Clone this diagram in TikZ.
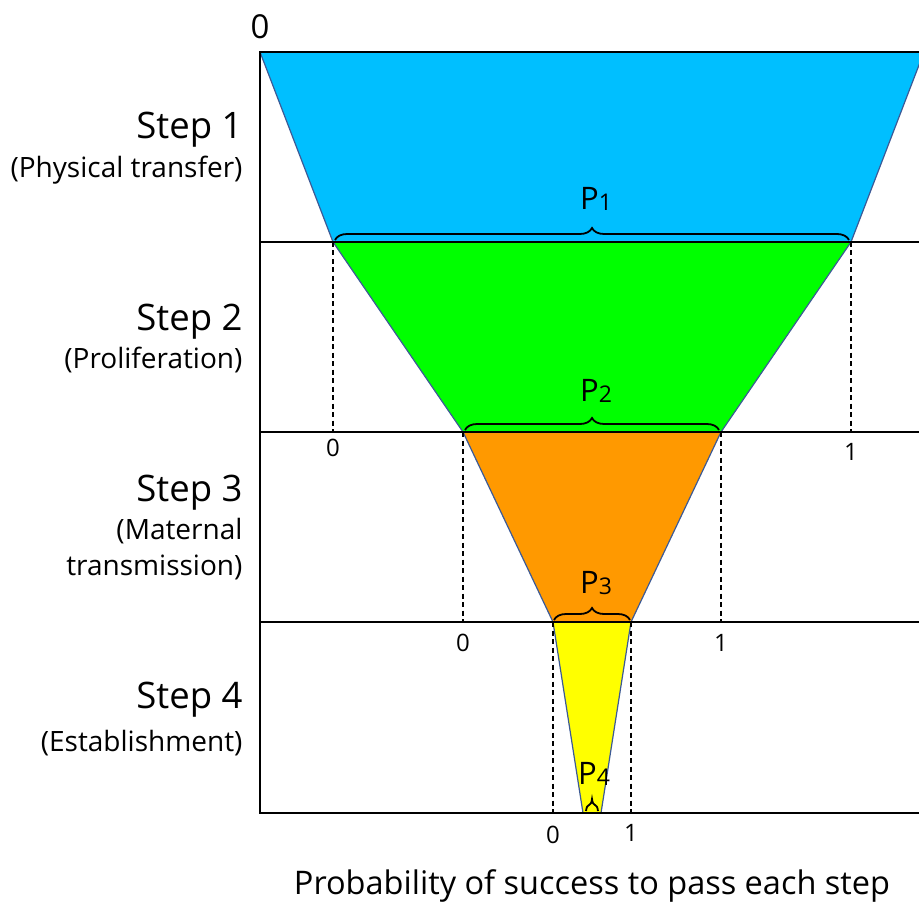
\documentclass[tikz,border=0pt]{standalone}
\usepackage{fontspec}
\setmainfont{Open Sans}
\usetikzlibrary{decorations.pathreplacing}
\definecolor{cblue}{RGB}{0,191,255}
\definecolor{cgreen}{RGB}{0,255,0}
\definecolor{corange}{RGB}{255,153,0}
\definecolor{cyellow}{RGB}{255,255,0}
\definecolor{edgeblue}{RGB}{60,90,150}
\tikzset{
  funnel/.style={draw=edgeblue, line width=1.2pt, line join=round},
  frameline/.style={draw=black, line width=2.2pt},
  guide/.style={draw=black, line width=1.4pt, dash pattern=on 5pt off 3.5pt},
  pbrace/.style={draw=black, line width=1.8pt, decorate, decoration={brace, amplitude=12pt}},
  steptitle/.style={anchor=east, font=\fontsize{36.5}{40}\selectfont},
  stepsub/.style={anchor=east, font=\fontsize{28}{32}\selectfont, align=right},
  axlabel/.style={font=\fontsize{24}{28}\selectfont},
  plabel/.style={font=\fontsize{31}{34}\selectfont},
}
\newcommand{\psub}[1]{P\raisebox{-0.1ex}{\fontsize{23}{25}\selectfont #1}}
\begin{document}
\begin{tikzpicture}[x=1pt,y=-1pt]
\useasboundingbox (0,0) rectangle (919,904);
% funnel layers
\fill[cblue] (260,52) -- (924,52) -- (851,242) -- (333,242) -- cycle;
\fill[cgreen] (333,242) -- (851,242) -- (721,432) -- (463,432) -- cycle;
\fill[corange] (463,432) -- (721,432) -- (631,622) -- (553,622) -- cycle;
\fill[cyellow] (553,622) -- (631,622) -- (601,813) -- (583,813) -- cycle;
\coordinate (tl) at (260,52);
\coordinate (tr) at (924,52);
\coordinate (a1) at (333,242); \coordinate (b1) at (851,242);
\coordinate (a2) at (463,432); \coordinate (b2) at (721,432);
\coordinate (a3) at (553,622); \coordinate (b3) at (631,622);
\coordinate (a4) at (583,813); \coordinate (b4) at (601,813);
\draw[funnel] (tl) -- (a1) -- (a2) -- (a3) -- (a4);
\draw[funnel] (tr) -- (b1) -- (b2) -- (b3) -- (b4);
% frame
\coordinate (f0l) at (260,52);  \coordinate (f0r) at (930,52);
\coordinate (f1l) at (260,242); \coordinate (f1r) at (930,242);
\coordinate (f2l) at (260,432); \coordinate (f2r) at (930,432);
\coordinate (f3l) at (260,622); \coordinate (f3r) at (930,622);
\coordinate (f4l) at (260,813); \coordinate (f4r) at (930,813);
\draw[frameline] (f0r) -- (f0l) -- (f4l) -- (f4r);
\draw[frameline] (f1l) -- (f1r);
\draw[frameline] (f2l) -- (f2r);
\draw[frameline] (f3l) -- (f3r);
% dashed guides
\coordinate (d1a) at (333,432); \coordinate (d1b) at (851,432);
\coordinate (d2a) at (463,622); \coordinate (d2b) at (721,622);
\coordinate (d3a) at (553,813); \coordinate (d3b) at (631,813);
\draw[guide] (a1) -- (d1a); \draw[guide] (b1) -- (d1b);
\draw[guide] (a2) -- (d2a); \draw[guide] (b2) -- (d2b);
\draw[guide] (a3) -- (d3a); \draw[guide] (b3) -- (d3b);
% axis labels
\node[axlabel] (z1) at (333,448) {0};
\node[axlabel] (o1) at (851,452) {1};
\node[axlabel] (z2) at (463,643) {0};
\node[axlabel] (o2) at (721,643) {1};
\node[axlabel] (z3) at (553,835) {0};
\node[axlabel] (o3) at (631,833) {1};
\node[font=\fontsize{33}{36}\selectfont] (z0) at (260,27) {0};
\node[font=\fontsize{33}{36}\selectfont, anchor=west] (o0) at (914,27) {1};
% braces
\coordinate (p1a) at (335,240); \coordinate (p1b) at (849,240);
\coordinate (p2a) at (465,430); \coordinate (p2b) at (719,430);
\coordinate (p3a) at (554,620); \coordinate (p3b) at (630,620);
\coordinate (p4a) at (586,811); \coordinate (p4b) at (598,811);
\draw[pbrace] (p1a) -- (p1b);
\draw[pbrace] (p2a) -- (p2b);
\draw[pbrace] (p3a) -- (p3b);
\draw[pbrace, decoration={brace, amplitude=12pt}] (p4a) -- (p4b);
\node[plabel] (P1) at (596,199) {\psub{1}};
\node[plabel] (P2) at (596,391) {\psub{2}};
\node[plabel] (P3) at (596,583) {\psub{3}};
\node[plabel] (P4) at (594,774) {\psub{4}};
% step labels
\node[steptitle] (s1) at (246,130) {Step 1};
\node[stepsub] (s1b) at (246,170) {(Physical transfer)};
\node[steptitle] (s2) at (246,322) {Step 2};
\node[stepsub] (s2b) at (246,360) {(Proliferation)};
\node[steptitle] (s3) at (246,493) {Step 3};
\node[stepsub] (s3b) at (246,531) {(Maternal};
\node[stepsub] (s3c) at (246,567) {transmission)};
\node[steptitle] (s4) at (246,700) {Step 4};
\node[stepsub] (s4b) at (246,743) {(Establishment)};
% x-axis title
\node[font=\fontsize{32.5}{36}\selectfont] (xt) at (592,886) {Probability of success to pass each step};
\end{tikzpicture}
\end{document}
